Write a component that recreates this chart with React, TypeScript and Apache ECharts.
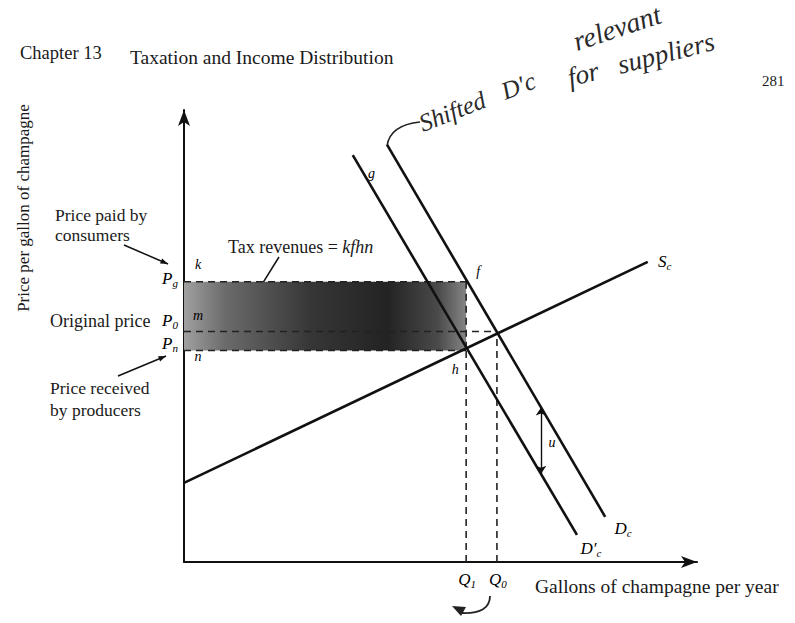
import React, { useEffect, useRef } from "react";
import * as echarts from "echarts";

// ---- data (arbitrary units, 0..100 on each axis) ----
const supplyCurve = [[0, 17.5], [90.4, 66.4]];
const demandCurve = [[39.6, 92.3], [82.1, 10.0]];
const shiftedDemandCurve = [[32.9, 90.0], [76.6, 6.0]];
const quantityLevels = [55, 61]; // Q1, Q0
const quantityNames = ["1", "0"];
const priceLevels = [62, 51, 46.8]; // Pg, P0, Pn
const priceNames = ["g", "0", "n"];
const priceCorners = ["k", "m", "n"];
const taxWedgeX = 69.6;
const taxWedgeY = [19.5, 34.2];
const gLabelPoint = [35.0, 85.9];

const SERIF = "'Liberation Serif', 'DejaVu Serif', serif";
const INK = "#000000";

const rich = {
  i: { fontFamily: SERIF, fontStyle: "italic", fontSize: 17, color: INK },
  s: { fontFamily: SERIF, fontStyle: "italic", fontSize: 11, color: INK, padding: [9, 0, 0, 0] },
  l: { fontFamily: SERIF, fontStyle: "italic", fontSize: 14, color: INK },
};

function arrow(x1: number, y1: number, x2: number, y2: number, head = 8) {
  const a = Math.atan2(y2 - y1, x2 - x1);
  const p1 = [x2 - head * Math.cos(a - 0.35), y2 - head * Math.sin(a - 0.35)];
  const p2 = [x2 - head * Math.cos(a + 0.35), y2 - head * Math.sin(a + 0.35)];
  return [
    { type: "line", shape: { x1, y1, x2, y2 }, style: { stroke: "#111", lineWidth: 1.5 } },
    { type: "polygon", shape: { points: [[x2, y2], p1, p2] }, style: { fill: "#111" } },
  ];
}

function txt(text: string, x: number, y: number, size: number, extra: any = {}, rotation = 0) {
  return {
    type: "text",
    x,
    y,
    rotation,
    style: {
      text,
      fontFamily: SERIF,
      fontSize: size,
      fill: extra.fill || "#1a1a1a",
      align: extra.align || "left",
      textAlign: extra.align || "left",
      verticalAlign: "middle",
      textVerticalAlign: "middle",
      fontStyle: extra.fontStyle || "normal",
      rich: extra.rich,
    },
  };
}

export default function App() {
  const ref = useRef<HTMLDivElement>(null);
  useEffect(() => {
    if (!ref.current) return;
    const chart = echarts.init(ref.current, null, { renderer: "svg" });
    const [Q1, Q0] = quantityLevels;
    const [Pg, P0, Pn] = priceLevels;

    const solid = (data: number[][]) => ({
      type: "line",
      data,
      symbol: "none",
      silent: true,
      lineStyle: { color: "#111", width: 2.6 },
    });
    const dashed = (data: number[][]) => ({
      type: "line",
      data,
      symbol: "none",
      silent: true,
      lineStyle: { color: "#222", width: 1.6, type: [7, 5] },
    });

    const priceLabelOffsets = [-3, -11, -7];
    const cornerOffsets = [-17, -16, 6];
    const labelData: any[] = [];
    priceLevels.forEach((p, i) => {
      labelData.push({ value: [0, p], label: { formatter: `{i|P}{s|${priceNames[i]}}`, offset: [-14, priceLabelOffsets[i]] } });
      labelData.push({ value: [0, p], label: { formatter: `{l|${priceCorners[i]}}`, offset: [14, cornerOffsets[i]] } });
    });
    quantityLevels.forEach((q, i) => {
      labelData.push({ value: [q, 0], label: { formatter: `{i|Q}{s|${quantityNames[i]}}`, offset: [1, 17] } });
    });
    labelData.push({ value: [Q1, Pg], label: { formatter: "{l|f}", offset: [12, -10] } });
    labelData.push({ value: [Q1, Pn], label: { formatter: "{l|h}", offset: [-11, 19] } });
    labelData.push({ value: gLabelPoint, label: { formatter: "{l|g}", offset: [8, 0] } });
    labelData.push({ value: [taxWedgeX, (taxWedgeY[0] + taxWedgeY[1]) / 2], label: { formatter: "{l|u}", offset: [11, 2] } });
    labelData.push({ value: supplyCurve[1], label: { formatter: "{i|S}{s|c}", offset: [17, 0] } });
    labelData.push({ value: demandCurve[1], label: { formatter: "{i|D}{s|c}", offset: [18, 12] } });
    labelData.push({ value: shiftedDemandCurve[1], label: { formatter: "{i|D′}{s|c}", offset: [14, 14] } });

    const graphic: any[] = [
      txt("Chapter 13", 20, 53, 18.5),
      txt("Taxation and Income Distribution", 130, 57, 19.5),
      txt("281", 762, 81, 15),
      txt("Price per gallon of champagne", 23, 208, 17, { align: "center" }, Math.PI / 2),
      txt("Gallons of champagne per year", 535, 586, 19.5),
      txt("Price paid by", 55, 215, 17.5),
      txt("consumers", 55, 235, 17.5),
      ...arrow(124, 245, 168, 264),
      txt("Original price", 50, 321, 18),
      txt("Price received", 50, 388, 17.5),
      txt("by producers", 50, 410, 17.5),
      ...arrow(118, 376, 166, 356),
      {
        type: "text",
        x: 228,
        y: 247,
        style: {
          text: "Tax revenues = {i|kfhn}",
          fontFamily: SERIF,
          fontSize: 18,
          fill: "#1a1a1a",
          verticalAlign: "middle",
          textVerticalAlign: "middle",
          rich: { i: { fontFamily: SERIF, fontStyle: "italic", fontSize: 18, fill: "#1a1a1a" } },
        },
      },
      ...arrow(279, 257, 246, 310, 9),
      // handwritten note
      txt("Shifted   D′c", 420, 124, 25, { fontStyle: "italic", fill: "#2a2a2a" }, 0.37),
      txt("relevant", 574, 42, 28, { fontStyle: "italic", fill: "#2a2a2a" }, 0.32),
      txt("for   suppliers", 568, 78, 27, { fontStyle: "italic", fill: "#2a2a2a" }, 0.25),
      {
        type: "bezierCurve",
        shape: { x1: 387, y1: 146, cpx1: 390, cpy1: 125, x2: 420, y2: 122 },
        style: { stroke: "#222", lineWidth: 1.6, fill: "none" },
      },
      // curved arrow under Q1 Q0
      {
        type: "bezierCurve",
        shape: { x1: 490, y1: 596, cpx1: 490, cpy1: 614, x2: 462, y2: 613 },
        style: { stroke: "#222", lineWidth: 1.8, fill: "none" },
      },
      { type: "polygon", shape: { points: [[452, 606], [466, 607], [461, 616]] }, style: { fill: "#222" } },
    ];

    chart.setOption({
      animation: false,
      backgroundColor: "#ffffff",
      grid: { left: 184, top: 110, width: 513, height: 452, containLabel: false },
      xAxis: {
        type: "value",
        min: 0,
        max: 100,
        axisLine: { show: true, onZero: false, symbol: ["none", "arrow"], symbolSize: [9, 16], lineStyle: { color: "#111", width: 2 } },
        axisTick: { show: false },
        axisLabel: { show: false },
        splitLine: { show: false },
      },
      yAxis: {
        type: "value",
        min: 0,
        max: 100,
        axisLine: { show: true, onZero: false, symbol: ["none", "arrow"], symbolSize: [9, 16], lineStyle: { color: "#111", width: 2 } },
        axisTick: { show: false },
        axisLabel: { show: false },
        splitLine: { show: false },
      },
      graphic,
      series: [
        {
          type: "line",
          data: [],
          silent: true,
          markArea: {
            silent: true,
            itemStyle: {
              color: new echarts.graphic.LinearGradient(0, 0, 1, 0, [
                { offset: 0, color: "#a0a0a0" },
                { offset: 0.15, color: "#6a6a6a" },
                { offset: 0.45, color: "#363636" },
                { offset: 0.72, color: "#232323" },
                { offset: 0.9, color: "#4a4a4a" },
                { offset: 1, color: "#858585" },
              ]),
            },
            data: [[{ coord: [0, Pn] }, { coord: [Q1, Pg] }]],
          },
        },
        dashed([[0, Pg], [Q1, Pg]]),
        dashed([[0, Pn], [Q1, Pn]]),
        dashed([[Q1, Pg], [Q1, Pn]]),
        dashed([[0, P0], [Q0, P0]]),
        dashed([[Q1, 0], [Q1, Pn]]),
        dashed([[Q0, 0], [Q0, P0]]),
        solid(supplyCurve),
        solid(demandCurve),
        solid(shiftedDemandCurve),
        {
          type: "lines",
          coordinateSystem: "cartesian2d",
          silent: true,
          symbol: ["arrow", "arrow"],
          symbolSize: 8,
          lineStyle: { color: "#111", width: 1.4, opacity: 1 },
          data: [{ coords: [[taxWedgeX, taxWedgeY[0]], [taxWedgeX, taxWedgeY[1]]] }],
        },
        {
          type: "scatter",
          symbolSize: 0,
          silent: true,
          itemStyle: { color: INK, opacity: 1 },
          data: labelData,
          label: { show: true, position: "inside", color: INK, opacity: 1, textBorderWidth: 0, rich },
        },
      ],
    });
    return () => chart.dispose();
  }, []);
  return <div ref={ref} style={{ position: "absolute", left: 0, top: 0, width: 795, height: 623 }} />;
}
